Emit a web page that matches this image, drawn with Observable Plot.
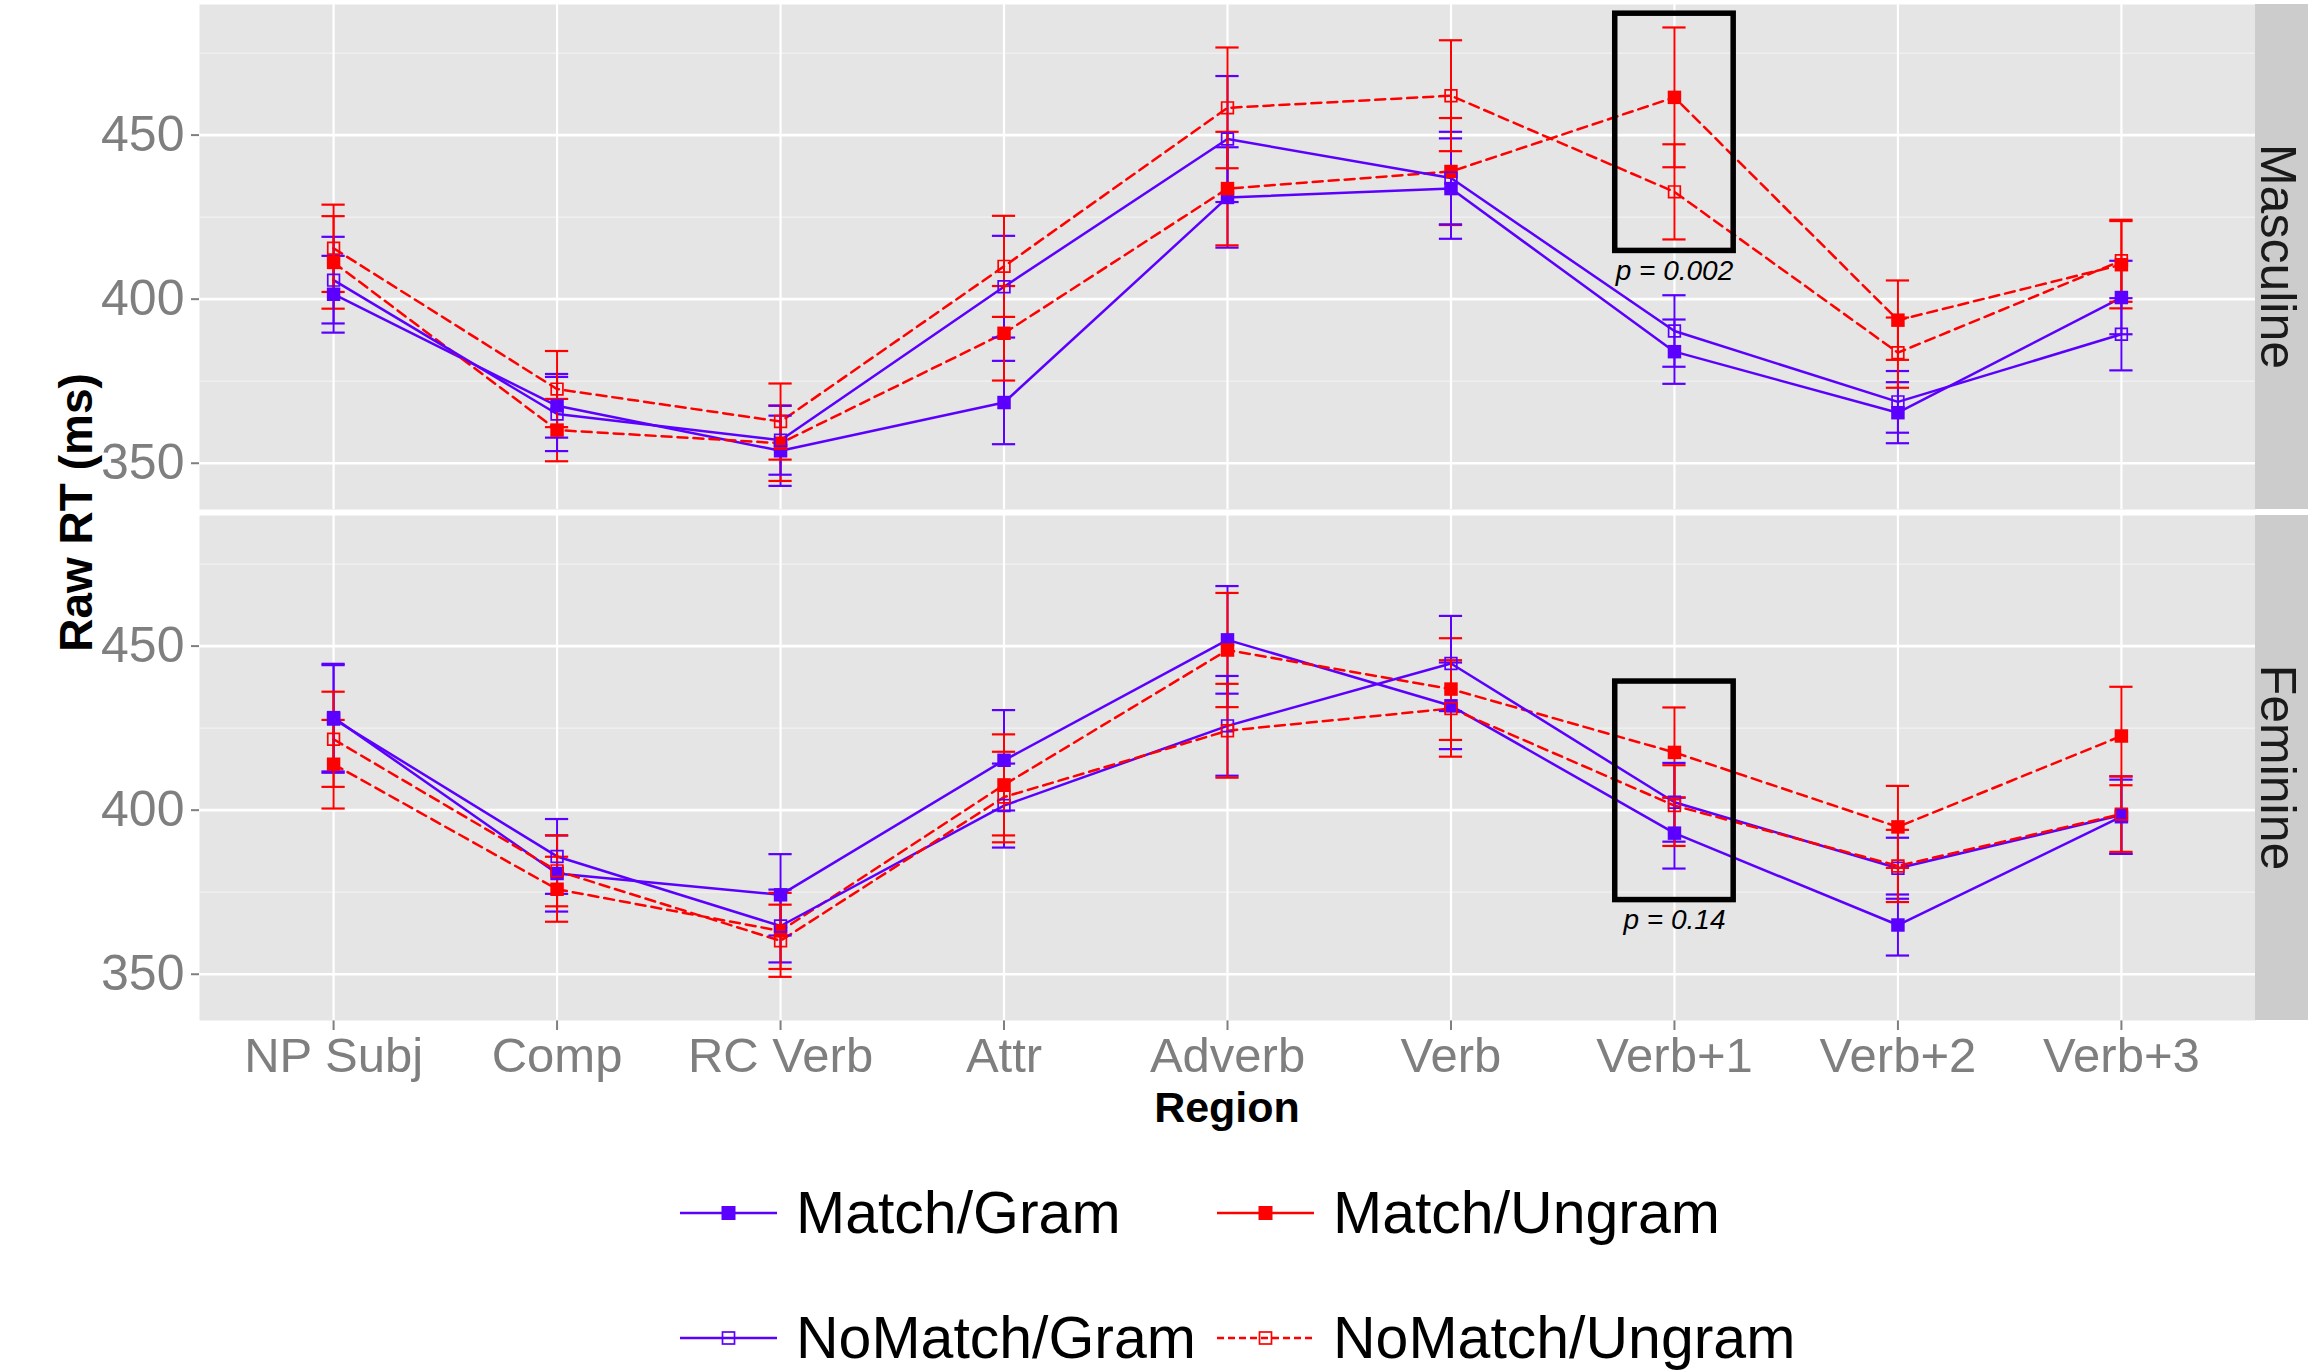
<!DOCTYPE html>
<html>
<head>
<meta charset="utf-8">
<script src="https://cdn.jsdelivr.net/npm/d3@7"></script>
<script src="https://cdn.jsdelivr.net/npm/@observablehq/plot@0.6"></script>
<style>
  html, body { margin: 0; padding: 0; background: #ffffff; }
  #wrap { position: relative; width: 2317px; height: 1372px; overflow: hidden;
          font-family: "Liberation Sans", Arial, Helvetica, sans-serif; }
  #chart { position: absolute; left: 0; top: 0; }
  .leg { position: absolute; display: flex; align-items: center; height: 80px; white-space: nowrap; }
  .leg span { font-size: 59px; color: #000; margin-left: 19px; line-height: 1; }
</style>
</head>
<body>
<div id="wrap"><div id="chart"></div><div id="legend"></div></div>
<script>
// ---------- data ----------
const regions = ["NP Subj", "Comp", "RC Verb", "Attr", "Adverb", "Verb", "Verb+1", "Verb+2", "Verb+3"];
const genders = ["Masculine", "Feminine"];
const conditions = ["Match/Gram", "Match/Ungram", "NoMatch/Gram", "NoMatch/Ungram"];
const yMajor = [350, 400, 450];
const yMinor = [375, 425, 475];

// Masculine panel: mean RT and error (half-width of the bar)
const mascMatchGram     = [401.5, 367.5, 353.8, 368.5, 431.0, 433.7, 384.0, 365.4, 400.5];
const mascMatchGramSE   = [11.7, 9.7, 10.7, 12.7, 15.3, 15.3, 9.8, 9.3, 11.2];
const mascMatchUngram   = [411.2, 360.1, 356.1, 389.6, 433.7, 438.9, 461.5, 393.6, 410.5];
const mascMatchUngramSE = [14.1, 9.5, 11.5, 14.4, 17.3, 16.3, 21.3, 12.1, 13.3];
const mascNoMatchGram     = [405.8, 365.0, 357.0, 403.8, 448.8, 436.9, 390.3, 368.7, 389.3];
const mascNoMatchGramSE   = [13.2, 11.3, 10.5, 15.5, 19.2, 14.1, 10.9, 9.4, 11.0];
const mascNoMatchUngram   = [415.5, 372.6, 362.7, 410.0, 458.3, 462.0, 432.7, 383.7, 411.7];
const mascNoMatchUngramSE = [13.3, 11.6, 11.6, 15.4, 18.4, 16.9, 14.5, 10.7, 12.5];

// Feminine panel
const femMatchGram     = [428.2, 380.7, 374.2, 415.2, 451.9, 431.8, 393.0, 365.0, 398.0];
const femMatchGramSE   = [16.4, 11.6, 12.4, 15.3, 16.4, 13.2, 10.8, 9.3, 11.3];
const femMatchUngram   = [414.0, 375.9, 363.2, 407.7, 448.8, 436.9, 417.6, 394.9, 422.6];
const femMatchUngramSE = [13.5, 9.9, 11.6, 15.4, 17.4, 15.5, 13.7, 12.5, 15.0];
const femNoMatchGram     = [427.8, 385.9, 364.7, 401.4, 425.7, 444.7, 402.4, 382.3, 398.5];
const femNoMatchGramSE   = [16.4, 11.4, 11.1, 12.8, 15.2, 14.5, 12.0, 9.3, 11.8];
const femNoMatchUngram   = [421.6, 381.5, 360.2, 404.0, 424.2, 431.0, 401.4, 383.0, 398.8];
const femNoMatchUngramSE = [14.5, 10.8, 11.0, 13.8, 14.3, 14.7, 12.3, 11.0, 11.5];

// annotation boxes
const annoGender = ["Masculine", "Feminine"];
const annoRegion = ["Verb+1", "Verb+1"];
const annoLow    = [414.7, 372.6];
const annoHigh   = [487.0, 439.2];
const annoLabel  = ["p = 0.002", "p = 0.14"];

// ---------- styles ----------
const FONT = '"Liberation Sans", Arial, Helvetica, sans-serif';
const BLUE = "#5B00FF", RED = "#FF0000";
const DASH = "10,6";
const condStyle = {
  "Match/Gram":     {color: BLUE, dash: null, filled: true,  keyDash: null},
  "Match/Ungram":   {color: RED,  dash: DASH, filled: true,  keyDash: null},
  "NoMatch/Gram":   {color: BLUE, dash: null, filled: false, keyDash: null},
  "NoMatch/Ungram": {color: RED,  dash: DASH, filled: false, keyDash: "7,4"}
};
const CAP = 0.052, BOXHALF = 0.265;

// ---------- build table ----------
const series = [
  ["Masculine", "Match/Gram", mascMatchGram, mascMatchGramSE],
  ["Masculine", "Match/Ungram", mascMatchUngram, mascMatchUngramSE],
  ["Masculine", "NoMatch/Gram", mascNoMatchGram, mascNoMatchGramSE],
  ["Masculine", "NoMatch/Ungram", mascNoMatchUngram, mascNoMatchUngramSE],
  ["Feminine", "Match/Gram", femMatchGram, femMatchGramSE],
  ["Feminine", "Match/Ungram", femMatchUngram, femMatchUngramSE],
  ["Feminine", "NoMatch/Gram", femNoMatchGram, femNoMatchGramSE],
  ["Feminine", "NoMatch/Ungram", femNoMatchUngram, femNoMatchUngramSE]
];
const rows = series.flatMap(([gender, cond, rt, se]) =>
  rt.map((v, i) => ({gender, cond, xi: i, region: regions[i], rt: v, lo: v - se[i], hi: v + se[i]})));
const regionIdx = regions.map((_, i) => i);
const annos = annoGender.map((g, i) => ({
  gender: g, xi: regions.indexOf(annoRegion[i]), lo: annoLow[i], hi: annoHigh[i], label: annoLabel[i]
}));

// ---------- marks ----------
const marks = [
  Plot.frame({fill: "#E5E5E5", stroke: "none"}),
  Plot.ruleY(yMinor, {stroke: "#F2F2F2", strokeWidth: 1.3}),
  Plot.ruleY(yMajor, {stroke: "#FFFFFF", strokeWidth: 2.6}),
  Plot.ruleX(regionIdx, {stroke: "#FFFFFF", strokeWidth: 2.2})
];
for (const c of conditions) {
  const st = condStyle[c];
  const d = rows.filter(r => r.cond === c);
  const lineOpts = {x: "xi", y: "rt", z: "gender", fy: "gender", stroke: st.color, strokeWidth: 2.5};
  if (st.dash) lineOpts.strokeDasharray = st.dash;
  marks.push(Plot.line(d, lineOpts));
}
for (const c of conditions) {
  const st = condStyle[c];
  const d = rows.filter(r => r.cond === c);
  marks.push(Plot.ruleX(d, {x: "xi", y1: "lo", y2: "hi", fy: "gender", stroke: st.color, strokeWidth: 2}));
  marks.push(Plot.ruleY(d, {y: "lo", x1: r => r.xi - CAP, x2: r => r.xi + CAP, fy: "gender", stroke: st.color, strokeWidth: 2.2}));
  marks.push(Plot.ruleY(d, {y: "hi", x1: r => r.xi - CAP, x2: r => r.xi + CAP, fy: "gender", stroke: st.color, strokeWidth: 2.2}));
}
for (const c of conditions) {
  const st = condStyle[c];
  const d = rows.filter(r => r.cond === c);
  if (st.filled) {
    marks.push(Plot.dot(d, {x: "xi", y: "rt", fy: "gender", symbol: "square", r: 7.6, fill: st.color, stroke: "none"}));
  } else {
    marks.push(Plot.dot(d, {x: "xi", y: "rt", fy: "gender", symbol: "square", r: 6.6, fill: "none", stroke: st.color, strokeWidth: 1.7}));
  }
}
marks.push(Plot.rect(annos, {x1: a => a.xi - BOXHALF, x2: a => a.xi + BOXHALF, y1: "lo", y2: "hi", fy: "gender",
  fill: "none", stroke: "#000000", strokeWidth: 5.5}));
marks.push(Plot.text(annos, {x: "xi", y: "lo", fy: "gender", text: "label", dy: 20,
  fontSize: 28, fontStyle: "italic", fill: "#000000", fontFamily: FONT}));

const plot = Plot.plot({
  width: 2317, height: 1135,
  marginLeft: 199, marginRight: 62, marginTop: 4, marginBottom: 114,
  style: {fontFamily: FONT, fontSize: "49px", color: "#7F7F7F", background: "transparent", overflow: "visible"},
  x: {domain: [-0.6, regions.length - 0.4], ticks: regionIdx, tickFormat: i => regions[i],
      tickSize: 10, tickPadding: 7, label: null},
  y: {domain: [335.9, 489.8], ticks: yMajor, tickSize: 8, tickPadding: 7, label: null},
  fy: {domain: genders, paddingInner: 0.0117, paddingOuter: 0, axis: null, label: null},
  marks
});
document.getElementById("chart").appendChild(plot);

// ---------- decorations through the scales ----------
const svg = d3.select(plot);
svg.selectAll('g[aria-label="x-axis tick"] path, g[aria-label="y-axis tick"] path, g[aria-label="x-axis"] .tick line, g[aria-label="y-axis"] .tick line')
  .attr("stroke-width", 2);
svg.selectAll('g[aria-label="y-axis tick label"]').attr("font-size", 50);
const xs = plot.scale("x"), fys = plot.scale("fy");
const xLeft = xs.range[0], xRight = xs.range[1];
const STRIP_W = 53;
for (const g of genders) {
  const y0 = fys.apply(g), bw = fys.bandwidth;
  svg.append("rect").attr("x", xRight).attr("y", y0).attr("width", STRIP_W).attr("height", bw).attr("fill", "#CCCCCC");
  svg.append("text")
    .attr("transform", `translate(${xRight + 6},${y0 + bw / 2}) rotate(90)`)
    .attr("text-anchor", "middle").attr("font-family", FONT).attr("font-size", 50)
    .attr("fill", "#1A1A1A").text(g);
}
const yMid = (fys.range[0] + fys.range[1]) / 2;
svg.append("text").attr("transform", `translate(92,${yMid}) rotate(-90)`)
  .attr("text-anchor", "middle").attr("font-family", FONT).attr("font-size", 46)
  .attr("font-weight", "bold").attr("fill", "#000").text("Raw RT (ms)");
svg.append("text").attr("x", (xLeft + xRight) / 2).attr("y", 1122)
  .attr("text-anchor", "middle").attr("font-family", FONT).attr("font-size", 43)
  .attr("font-weight", "bold").attr("fill", "#000").text("Region");

// ---------- legend (HTML, below the SVG) ----------
const legend = document.getElementById("legend");
conditions.forEach((c, i) => {
  const st = condStyle[c];
  const col = i % 2, row = Math.floor(i / 2);
  const div = document.createElement("div");
  div.className = "leg";
  div.style.left = (680 + col * 537) + "px";
  div.style.top = (1213 + row * 125 - 40) + "px";
  const sq = st.filled
    ? `<rect x="41.5" y="8" width="14" height="14" fill="${st.color}"/>`
    : `<rect x="42.5" y="9" width="12" height="12" fill="none" stroke="${st.color}" stroke-width="1.7"/>`;
  div.innerHTML = `<svg width="97" height="30" style="display:block"><line x1="0" x2="97" y1="15" y2="15" stroke="${st.color}" stroke-width="2.4"${st.keyDash ? ` stroke-dasharray="${st.keyDash}"` : ""}/>${sq}</svg><span>${c}</span>`;
  legend.appendChild(div);
});
</script>
</body>
</html>
